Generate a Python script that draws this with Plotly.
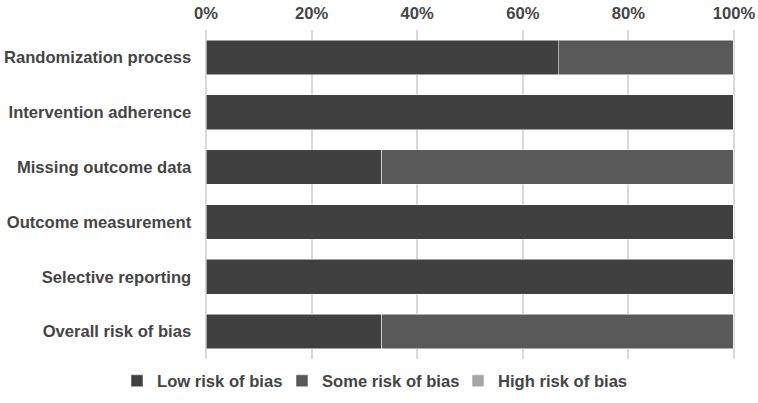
import plotly.graph_objects as go

domains = ["Randomization process", "Intervention adherence", "Missing outcome data",
           "Outcome measurement", "Selective reporting", "Overall risk of bias"]
low_risk = [66.7, 100, 33.3, 100, 100, 33.3]
some_risk = [33.3, 0, 66.7, 0, 0, 66.7]
high_risk = [0, 0, 0, 0, 0, 0]
series_names = ["Low risk of bias", "Some risk of bias", "High risk of bias"]
series_colors = ["#404040", "#595959", "#a6a6a6"]
tick_vals = [0, 20, 40, 60, 80, 100]
tick_text = ["0%", "20%", "40%", "60%", "80%", "100%"]

FONT = "Liberation Sans, Arial, sans-serif"
TXT = "#454545"
FS = 16.6

legend_ids = ["legend", "legend2", "legend3"]
legend_x = [117, 282, 458]  # left edge of each legend item, in pixels

fig = go.Figure()
for name, vals, col, lid in zip(series_names, [low_risk, some_risk, high_risk],
                                series_colors, legend_ids):
    fig.add_trace(go.Bar(
        y=domains, x=vals, name=name, orientation="h", legend=lid,
        marker=dict(color=col, line=dict(color="#ffffff", width=0.5)),
    ))

W, H = 758, 403
legend_layout = {}
for lid, lx in zip(legend_ids, legend_x):
    legend_layout[lid] = dict(
        orientation="h", xref="container", yref="container",
        x=lx / W, xanchor="left", y=(H - 381) / H, yanchor="middle",
        font=dict(family=FONT, size=FS, color=TXT, weight="bold"),
        itemwidth=30, bgcolor="rgba(0,0,0,0)",
    )

fig.update_layout(
    barmode="stack",
    bargap=0.37,
    width=W, height=H,
    margin=dict(l=204.5, r=23, t=30, b=44),
    paper_bgcolor="white", plot_bgcolor="white",
    font=dict(family=FONT, size=FS, color=TXT),
    showlegend=True,
    xaxis=dict(side="top", range=[-0.2, 100.2], tickvals=tick_vals, ticktext=tick_text,
               showgrid=True, gridcolor="#d9d9d9", gridwidth=2, zeroline=False,
               showline=False, ticks="outside", ticklen=3.5, tickcolor="rgba(0,0,0,0)",
               automargin=False, ticklabeloverflow="allow",
               tickfont=dict(family=FONT, size=FS, color=TXT, weight="bold")),
    yaxis=dict(categoryorder="array", categoryarray=domains, autorange="reversed",
               showgrid=False, showline=False, ticks="outside", ticklen=9.5,
               tickcolor="rgba(0,0,0,0)", automargin=False,
               tickfont=dict(family=FONT, size=FS, color=TXT, weight="bold")),
    **legend_layout,
)

# remove the browser's default page margin so the figure sits at the window's corner
fig.write_html("out.html", config={"displayModeBar": False},
               post_script="document.body.style.margin='0';")
